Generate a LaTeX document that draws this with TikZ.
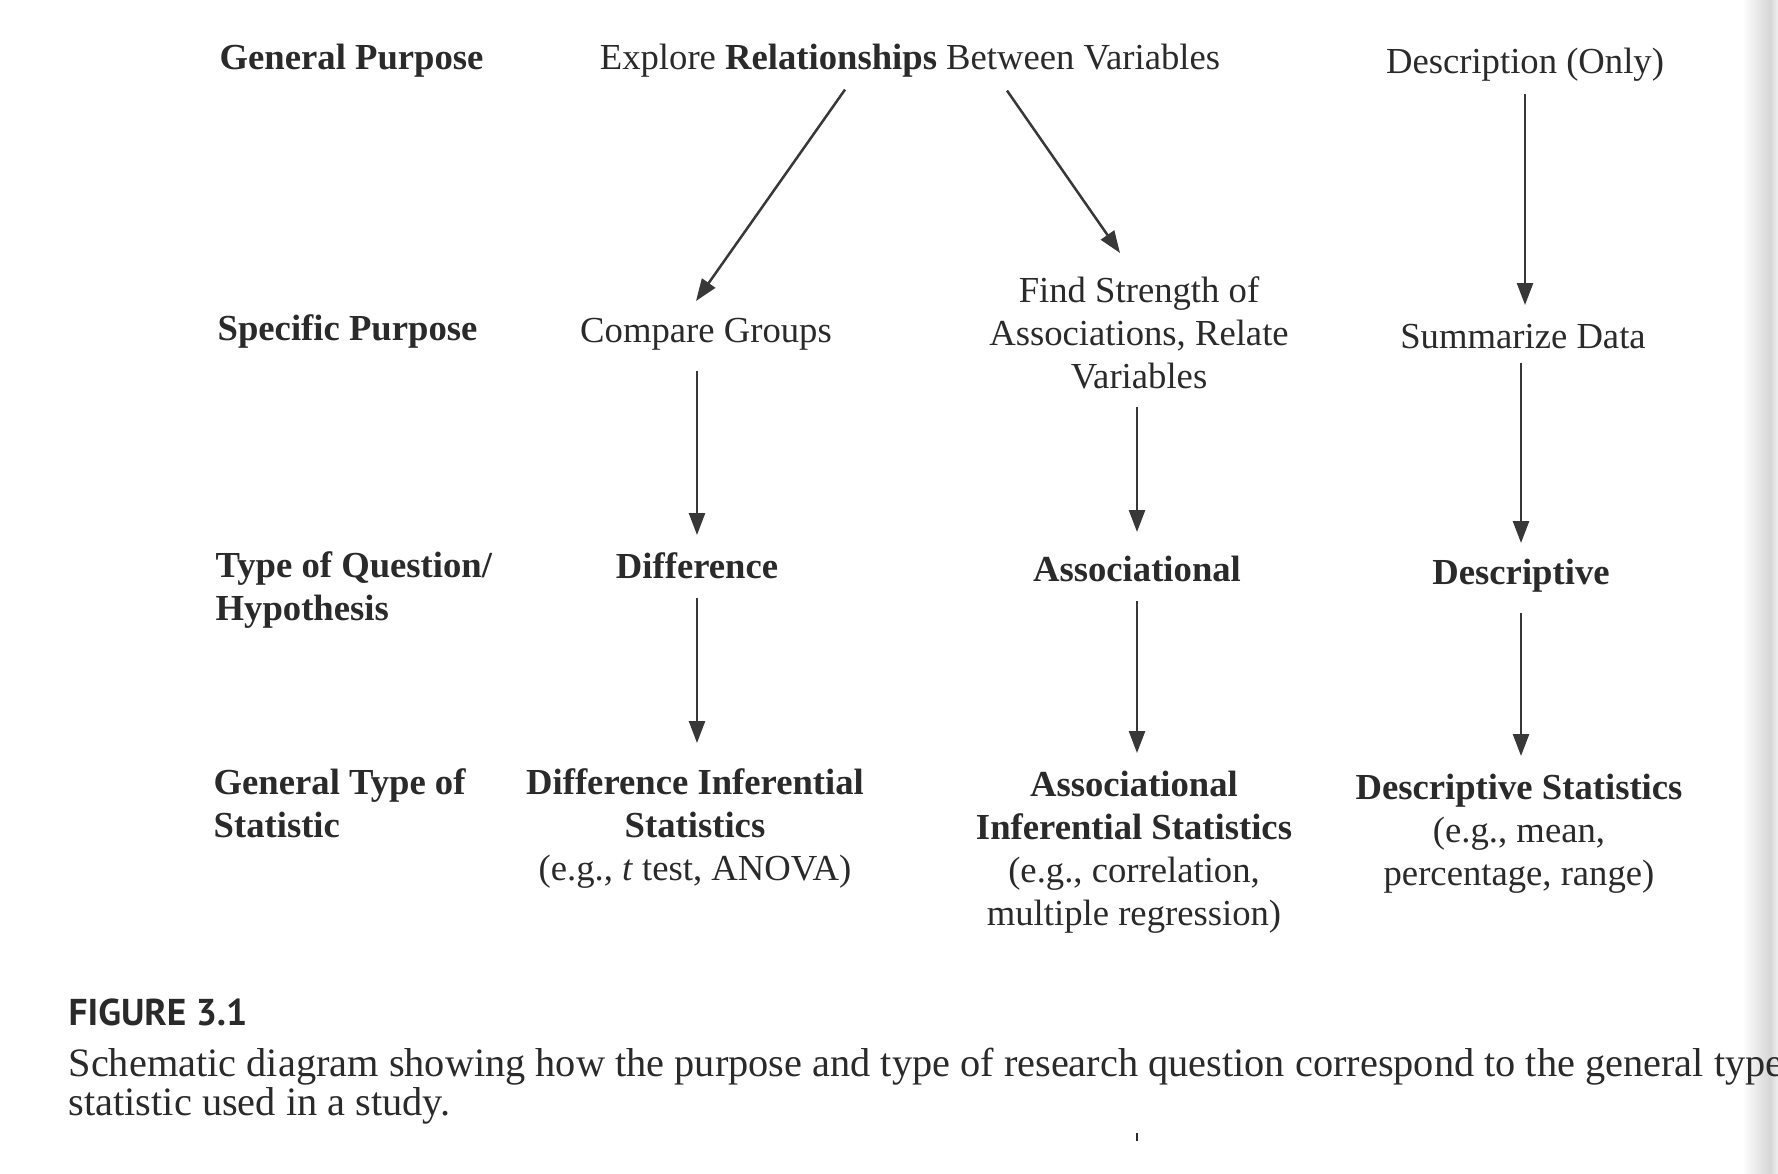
\documentclass[tikz,border=0pt]{standalone}
\usepackage{fontspec}
\setmainfont{Liberation Serif}
\newfontfamily\capsans{PT Sans}
\usetikzlibrary{arrows.meta,calc}
\definecolor{ink}{HTML}{2A2A2A}
\definecolor{lineink}{HTML}{383838}

\begin{document}
\begin{tikzpicture}[x=0.3pt,y=-0.3pt,
  txt/.style={inner sep=0pt, text=ink, font=\fontsize{11}{12.9}\selectfont, align=center},
  rowhead/.style={txt, font=\fontsize{11}{12.9}\selectfont\bfseries, align=left, anchor=north west},
  cell/.style={txt, anchor=north},
  boldcell/.style={cell, font=\fontsize{11}{12.9}\selectfont\bfseries},
  arr/.style={draw=lineink, line width=0.75pt, -{Triangle[length=6.6pt,width=4.8pt]}}
]
\useasboundingbox (0,0) rectangle (1778,1173);
\fill[white] (0,0) rectangle (1778,1173);
\clip (0,0) rectangle (1778,1173);

% faint shadow along the right page edge
\shade[left color=white, right color=black!16] (1742,0) rectangle (1770,1173);
\shade[left color=black!16, right color=black!6] (1770,0) rectangle (1778,1173);

% row headings
\node[rowhead] (gp) at (219,43) {General Purpose};
\node[rowhead] (sp) at (217,314) {Specific Purpose};
\node[rowhead] (tq) at (215,551) {Type of Question/\\Hypothesis};
\node[rowhead] (gt) at (213,768) {General Type of\\Statistic};

% general purpose
\node[cell] (explore) at (910,43) {Explore \textbf{Relationships} Between Variables};
\node[cell] (descr) at (1525,47) {Description (Only)};

% specific purpose
\node[cell] (compare) at (706,318) {Compare Groups};
\node[cell] (strength) at (1139,276) {Find Strength of\\Associations, Relate\\Variables};
\node[cell] (summ) at (1523,324) {Summarize Data};

% type of question
\node[boldcell] (diff) at (697,552) {Difference};
\node[boldcell] (assoc) at (1137,555) {Associational};
\node[boldcell] (desc) at (1521,558) {Descriptive};

% general type of statistic
\node[cell] (diffstat) at (695,768) {\textbf{Difference Inferential}\\\textbf{Statistics}\\(e.g., \textit{t} test, ANOVA)};
\node[cell] (assocstat) at (1134,770) {\textbf{Associational}\\\textbf{Inferential Statistics}\\(e.g., correlation,\\multiple regression)};
\node[cell] (descstat) at (1519,773) {\textbf{Descriptive Statistics}\\(e.g., mean,\\percentage, range)};

% connectors
\draw[arr] ($(explore.south)+(-65,12)$) -- ($(compare.north)+(-10,-17)$);
\draw[arr] ($(explore.south)+(97,13)$) -- ($(strength.north)+(-19,-23)$);
\draw[arr] ($(descr.south)+(0,12)$) -- ($(summ.north -| descr.south)+(0,-19)$);

\draw[arr] ($(compare.south -| diff.north)+(0,20)$) -- ($(diff.north)+(0,-17)$);
\draw[arr] ($(strength.south -| assoc.north)+(0,17)$) -- ($(assoc.north)+(0,-23)$);
\draw[arr] ($(summ.south -| desc.north)+(0,13)$) -- ($(desc.north)+(0,-15)$);

\draw[arr] ($(diff.south)+(0,18)$) -- ($(diffstat.north -| diff.south)+(0,-25)$);
\draw[arr] ($(assoc.south)+(0,19)$) -- ($(assocstat.north -| assoc.south)+(0,-17)$);
\draw[arr] ($(desc.south)+(0,20)$) -- ($(descstat.north -| desc.south)+(0,-17)$);

% caption (the first line runs off the page edge)
\node[inner sep=0pt, anchor=base west, text=ink, font=\capsans\fontsize{11.2}{12}\selectfont\bfseries] (figlabel) at (68,1025) {FIGURE 3.1};
\node[inner sep=0pt, anchor=base west, text=ink, font=\fontsize{12.1}{12.3}\selectfont] (capline1) at (68,1076) {Schematic diagram showing how the purpose and type of research question correspond to the general type};
\node[inner sep=0pt, anchor=base west, text=ink, font=\fontsize{12.1}{12.3}\selectfont] (capline2) at (68,1115) {statistic used in a study.};

% small printer's mark below the caption
\draw[ink, line width=0.5pt] (1137,1133) -- (1137,1141);
\end{tikzpicture}
\end{document}
